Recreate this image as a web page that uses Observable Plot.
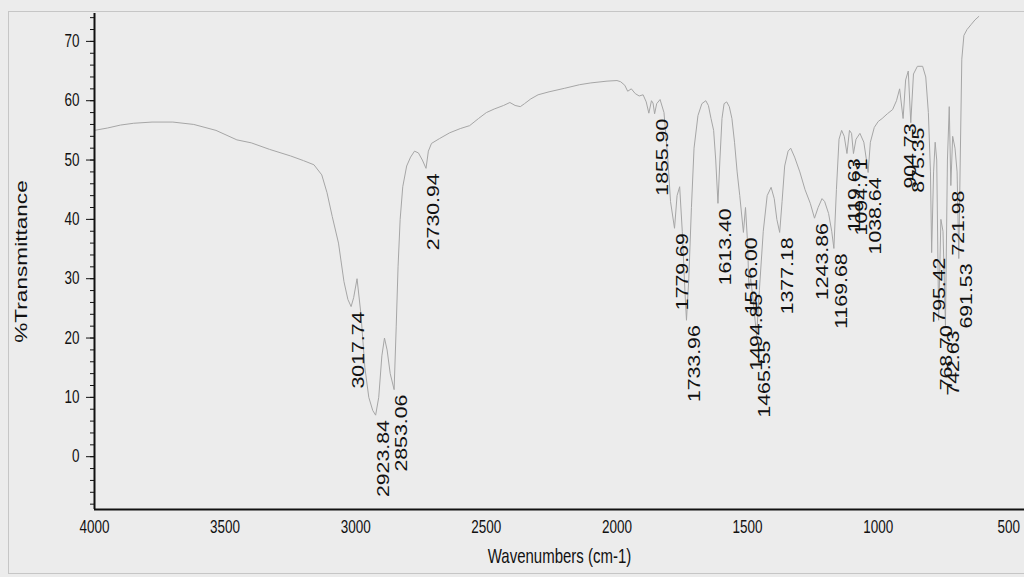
<!DOCTYPE html>
<html><head><meta charset="utf-8">
<script src="https://cdn.jsdelivr.net/npm/d3@7"></script>
<script src="https://cdn.jsdelivr.net/npm/@observablehq/plot@0.6"></script>
<style>
html,body{margin:0;padding:0;background:#ececec;overflow:hidden;}
#chart{position:absolute;left:0;top:0;}
#frame{position:absolute;left:8px;top:11px;width:1030px;height:561px;border:1.5px solid #c6c6c6;pointer-events:none;}
</style></head><body>
<div id="chart"></div><div id="frame"></div>
<script>
// Spectrum (wavenumber cm-1, %T)
const wavenumbers = [4000,3950,3900,3850,3780,3700,3620,3535,3455,3400,3330,3250,3200,3160,3130,3110,3090,3066,3045,3030,3017.74,3008,2995,2980,2965,2950,2935,2923.84,2912,2900,2890,2880,2868,2853.06,2845,2838,2830,2820,2805,2790,2775,2760,2745,2730.94,2722,2710,2680,2640,2600,2564,2530,2500,2470,2434,2410,2390,2370,2354,2330,2302,2260,2200,2143,2100,2038,2000,1986,1970,1959,1945,1930,1915,1900,1888,1878,1868,1862,1855.90,1848,1835,1820,1805,1795,1779.69,1770,1760,1750,1740,1733.96,1725,1715,1705,1690,1675,1660,1650,1640,1630,1622,1613.40,1606,1598,1590,1580,1570,1560,1550,1540,1530,1516.00,1508,1500,1494.85,1488,1478,1465.55,1455,1440,1425,1410,1398,1388,1377.18,1368,1358,1345,1335,1320,1300,1280,1260,1243.86,1230,1215,1205,1190,1178,1169.68,1160,1150,1140,1130,1119.63,1110,1102,1094.71,1085,1070,1055,1045,1038.64,1030,1015,1000,985,965,945,930,918,904.73,895,885,875.35,865,850,830,818,808,800,795.42,788,782,776,768.70,760,752,742.63,735,728,721.98,715,706,698,691.53,686,680,672,660,645,630,615];
const transmittance = [55.0,55.4,55.9,56.2,56.4,56.4,56.0,55.0,53.4,52.9,51.8,50.7,49.9,49.2,47.5,44.5,40.5,36.0,29.5,26.5,25.3,26.8,30.0,24.0,15.0,10.0,7.8,7.0,10.0,17.0,20.0,18.0,14.0,11.3,22.0,32.0,40.0,45.5,49.0,50.5,51.5,51.2,50.0,48.6,51.5,52.8,53.6,54.6,55.3,55.8,57.0,58.0,58.6,59.2,59.7,59.2,59.0,59.5,60.3,61.0,61.5,62.1,62.7,63.0,63.3,63.4,63.2,62.6,61.6,62.0,61.2,60.8,61.0,59.8,57.9,60.0,59.6,57.8,59.5,60.2,58.0,50.0,43.0,38.5,44.0,45.5,38.0,28.0,23.0,30.0,42.0,52.0,57.5,59.5,60.0,59.2,57.0,55.0,50.0,42.7,50.0,57.0,59.5,59.8,59.0,57.0,53.0,48.0,44.0,37.8,42.0,36.0,28.3,30.0,26.0,20.4,28.0,38.0,44.0,45.4,43.5,40.0,37.8,43.0,49.0,51.5,52.0,50.5,48.0,45.0,42.7,40.2,42.0,43.5,43.0,41.0,38.0,35.1,45.0,53.5,55.0,54.0,51.1,55.0,54.5,51.1,53.5,54.5,53.0,50.0,47.9,53.0,55.5,56.5,57.0,57.8,58.5,60.0,62.0,57.0,63.5,65.0,56.3,64.5,65.8,65.8,64.0,58.0,48.0,34.4,48.0,53.0,50.0,23.0,40.0,38.0,22.1,50.0,59.0,45.7,54.0,52.0,48.0,33.4,50.0,67.0,71.0,72.0,72.8,73.6,74.2];

// Labelled peaks
const peakWavenumbers = [3017.74,2923.84,2853.06,2730.94,1855.90,1779.69,1733.96,1613.40,1516.00,1494.85,1465.55,1377.18,1243.86,1169.68,1119.63,1094.71,1038.64,904.73,875.35,795.42,768.70,742.63,721.98,691.53];
const peakTransmittance = [25.3,7.0,11.3,48.6,57.8,38.5,23.0,42.7,37.8,28.3,20.4,37.8,40.2,35.1,51.1,51.1,47.9,57.0,56.3,34.4,23.0,22.1,45.7,33.4];

const xTicks = [4000,3500,3000,2500,2000,1500,1000,500];
const yMajorTicks = d3.range(0, 71, 10);
const yMinorTicks = d3.range(-8, 75, 2);
const xDomain = [4000, 440];
const yDomain = [-8.9, 74.7];
const xLabel = "Wavenumbers (cm-1)";
const yLabel = "%Transmittance";

const spectrum = wavenumbers.map((w, i) => ({w, t: transmittance[i]}));
const peaks = peakWavenumbers.map((w, i) => ({w, t: peakTransmittance[i], label: w.toFixed(2)}));

const chart = Plot.plot({
  width: 1024, height: 577,
  marginLeft: 94, marginRight: 0, marginTop: 13, marginBottom: 68,
  style: {background: "#ececec", fontFamily: "'Liberation Sans', Arial, sans-serif", fontSize: "18px", color: "#111"},
  x: {domain: xDomain},
  y: {domain: yDomain},
  marks: [
    Plot.axisX({ticks: xTicks, tickSize: 0, tickPadding: 11, tickFormat: d => String(d),
      label: xLabel, labelAnchor: "center", labelOffset: 53, labelArrow: "none"}),
    Plot.axisY({ticks: yMinorTicks, tickSize: 4, tickFormat: () => "", label: null}),
    Plot.axisY({ticks: yMajorTicks, tickSize: 8, tickPadding: 7, tickFormat: d => String(d),
      label: yLabel, labelAnchor: "center", labelOffset: 80, labelArrow: "none"}),
    Plot.line(spectrum, {x: "w", y: "t", stroke: "#a6a6a6", strokeWidth: 1}),
    Plot.text(peaks, {x: "w", y: "t", text: "label", rotate: -90, textAnchor: "end",
      dx: 8, dy: 5, fontSize: 16, fill: "#111"}),
    Plot.ruleX([xDomain[0]], {stroke: "#111", strokeWidth: 2}),
    Plot.ruleY([yDomain[0]], {stroke: "#111", strokeWidth: 2})
  ]
});
document.getElementById("chart").appendChild(chart);

// Axis title sizes
d3.select(chart).selectAll("text").each(function() {
  const t = d3.select(this).text();
  if (t === xLabel) d3.select(this).attr("font-size", 20);
  if (t === yLabel) d3.select(this).attr("font-size", 17);
});

// The reference image is squashed horizontally: narrow horizontal text, elongated rotated text.
d3.select(chart).selectAll("text").each(function() {
  const tr = this.getAttribute("transform") || "";
  const s = tr.includes("rotate") ? 1.33 : 0.75;
  let ax = parseFloat(this.getAttribute("x")), ay = parseFloat(this.getAttribute("y"));
  if (!isFinite(ax)) ax = 0;
  if (!isFinite(ay)) ay = 0;
  this.setAttribute("transform", `${tr} translate(${ax},${ay}) scale(${s},1) translate(${-ax},${-ay})`.trim());
});
</script>
</body></html>
